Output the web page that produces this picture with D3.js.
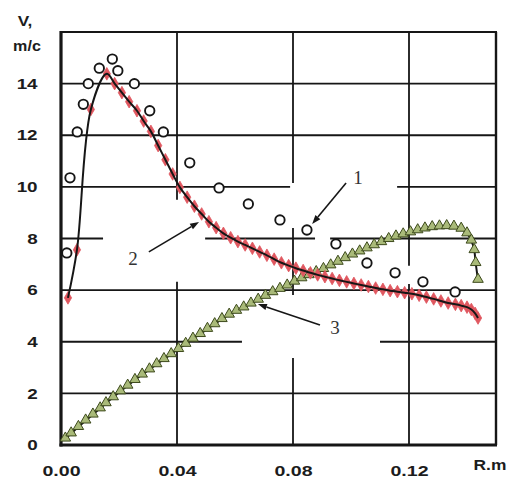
<!DOCTYPE html>
<html><head><meta charset="utf-8">
<script src="https://cdn.jsdelivr.net/npm/d3@7"></script>
<style>
html,body{margin:0;padding:0;background:#fff;}
svg{display:block;}
</style></head>
<body><svg id="chart" width="509" height="479"></svg>
<script>
// Axis ticks
const radiusTicks = [0, 0.04, 0.08, 0.12];
const speedTicks = [0, 2, 4, 6, 8, 10, 12, 14];

// Curve 1: measured velocity (open circles)
const curve1R = [0.0020, 0.0031, 0.0056, 0.0077, 0.0094, 0.0132, 0.0177, 0.0196, 0.0253, 0.0306,
  0.0353, 0.0444, 0.0545, 0.0646, 0.0755, 0.0848, 0.0948, 0.1055, 0.1152, 0.1248, 0.1359];
const curve1V = [7.44, 10.35, 12.13, 13.2, 14.0, 14.6, 14.95, 14.5, 14.0, 12.95,
  12.13, 10.93, 9.96, 9.34, 8.72, 8.33, 7.79, 7.05, 6.67, 6.32, 5.93];

// Curve 2: computed velocity (red diamonds)
const curve2R = [0.0024, 0.0055, 0.0103, 0.0158, 0.0185, 0.021, 0.0235, 0.0262, 0.0285, 0.031,
  0.0335, 0.036, 0.0385, 0.041, 0.0435, 0.046, 0.0485, 0.051, 0.0535, 0.056,
  0.0585, 0.061, 0.0635, 0.066, 0.0685, 0.071, 0.0735, 0.076, 0.0785, 0.081,
  0.0835, 0.086, 0.0885, 0.091, 0.0935, 0.096, 0.0985, 0.101, 0.1035, 0.106,
  0.1085, 0.111, 0.1135, 0.116, 0.1185, 0.121, 0.1235, 0.126, 0.1285, 0.131,
  0.1335, 0.136, 0.138, 0.14, 0.1415, 0.1428, 0.1438];
const curve2V = [5.7, 7.56, 13.0, 14.38, 14.0, 13.65, 13.3, 12.95, 12.55, 12.15,
  11.6, 11.05, 10.5, 9.98, 9.6, 9.25, 8.95, 8.65, 8.42, 8.2,
  8.03, 7.88, 7.75, 7.62, 7.48, 7.35, 7.2, 7.06, 6.95, 6.85,
  6.76, 6.67, 6.59, 6.52, 6.45, 6.38, 6.32, 6.26, 6.2, 6.14,
  6.08, 6.03, 5.98, 5.94, 5.9, 5.86, 5.8, 5.73, 5.66, 5.58,
  5.5, 5.45, 5.4, 5.34, 5.25, 5.1, 4.92];

// Curve 3: computed velocity (green triangles)
const curve3R = [0.0015, 0.0035, 0.006, 0.0085, 0.011, 0.0135, 0.0155, 0.018, 0.0205, 0.023,
  0.0255, 0.028, 0.0305, 0.033, 0.0355, 0.038, 0.0405, 0.043, 0.0455, 0.048,
  0.0505, 0.053, 0.0555, 0.058, 0.0605, 0.063, 0.0655, 0.068, 0.0705, 0.073,
  0.0755, 0.078, 0.0805, 0.083, 0.0855, 0.088, 0.0905, 0.093, 0.0955, 0.098,
  0.1005, 0.103, 0.1055, 0.108, 0.1105, 0.113, 0.1155, 0.118, 0.1205, 0.123,
  0.1255, 0.128, 0.1305, 0.133, 0.1355, 0.138, 0.14, 0.1415, 0.1425, 0.143, 0.1438];
const curve3V = [0.25, 0.45, 0.7, 0.95, 1.18, 1.42, 1.62, 1.85, 2.08, 2.3,
  2.52, 2.73, 2.93, 3.13, 3.33, 3.52, 3.72, 3.92, 4.12, 4.3,
  4.5, 4.68, 4.88, 5.05, 5.2, 5.33, 5.48, 5.63, 5.78, 5.92,
  6.05, 6.18, 6.33, 6.46, 6.58, 6.7, 6.82, 6.96, 7.1, 7.24,
  7.38, 7.5, 7.62, 7.74, 7.86, 7.98, 8.08, 8.16, 8.24, 8.32,
  8.39, 8.44, 8.47, 8.48, 8.46, 8.38, 8.2, 7.92, 7.55, 7.05, 6.4];

// Curve numbers
const curveLabels = ["1", "2", "3"];

// ---- layout ----
const svg = d3.select("#chart");
const x = d3.scaleLinear().domain([0, 0.15]).range([61, 496]);
const y = d3.scaleLinear().domain([0, 16]).range([445, 32]);
const ink = "#161616";

// breaks in the grid, in data units, left free around the curve numbers
const hGaps = new Map([[8, [[0.0145, 0.0497], [0.0876, 0.0928]]], [4, [[0.0624, 0.11]]], [10, [[0.079, 0.1159]]]]);
const vGaps = new Map([[0.04, [[6.32, 9.5]]], [0.08, [[3.37, 5.81], [8.41, 10.15]]], [0.12, [[6.24, 6.94]]]]);

function segments(lo, hi, gaps) {
  const out = [];
  let s = lo;
  (gaps || []).forEach(([a, b]) => { out.push([s, a]); s = b; });
  out.push([s, hi]);
  return out;
}

const grid = svg.append("g").attr("stroke", ink).attr("stroke-width", 1.8);
speedTicks.filter(v => v > 0).forEach(v => {
  segments(0, 0.15, hGaps.get(v)).forEach(([a, b]) => {
    grid.append("line").attr("x1", x(a)).attr("x2", x(b)).attr("y1", y(v)).attr("y2", y(v));
  });
});
radiusTicks.filter(r => r > 0).forEach(r => {
  segments(0, 16, vGaps.get(r)).forEach(([a, b]) => {
    grid.append("line").attr("x1", x(r)).attr("x2", x(r)).attr("y1", y(a)).attr("y2", y(b));
  });
});

// frame
const frame = svg.append("g").attr("stroke", ink).attr("fill", "none");
frame.append("line").attr("x1", x(0)).attr("x2", x(0)).attr("y1", y(16) - 1).attr("y2", y(0) + 1.5).attr("stroke-width", 3.2);
frame.append("line").attr("x1", x(0) - 1.5).attr("x2", x(0.15) + 1).attr("y1", y(0)).attr("y2", y(0)).attr("stroke-width", 3.2);
frame.append("line").attr("x1", x(0)).attr("x2", x(0.15) + 1).attr("y1", y(16)).attr("y2", y(16)).attr("stroke-width", 2.2);
frame.append("line").attr("x1", x(0.15)).attr("x2", x(0.15)).attr("y1", y(16)).attr("y2", y(0)).attr("stroke-width", 2.4);

// axes (labels only; the frame and grid carry the lines)
const font = "'Liberation Sans', Arial, sans-serif";
const xAxis = svg.append("g").attr("transform", `translate(0,${y(0)})`)
  .call(d3.axisBottom(x).tickValues(radiusTicks).tickFormat(d3.format(".2f")).tickSize(0).tickPadding(18));
const yAxis = svg.append("g").attr("transform", `translate(${x(0)},0)`)
  .call(d3.axisLeft(y).tickValues(speedTicks).tickFormat(d3.format("d")).tickSize(0).tickPadding(18));
[xAxis, yAxis].forEach(g => {
  g.select(".domain").remove();
  g.selectAll("text").attr("font-family", font).attr("font-weight", "bold")
    .attr("font-size", 14.5).attr("fill", "#1c1c1c");
});
// wide lettering: stretch each label horizontally about its anchor
xAxis.selectAll(".tick text").attr("dy", "0.9em").attr("transform", "scale(1.35,1)");
yAxis.selectAll(".tick text").attr("transform", "scale(1.3,1)");

svg.append("text").attr("x", 25).attr("y", 26).attr("text-anchor", "middle")
  .attr("font-family", font).attr("font-weight", "bold").attr("font-size", 15).attr("fill", "#1c1c1c")
  .attr("transform", "translate(25,0) scale(1.15,1) translate(-25,0)").text("V,");
svg.append("text").attr("x", 27).attr("y", 51).attr("text-anchor", "middle")
  .attr("font-family", font).attr("font-weight", "bold").attr("font-size", 14).attr("fill", "#1c1c1c")
  .attr("transform", "translate(27,0) scale(1.15,1) translate(-27,0)").text("m/c");
svg.append("text").attr("x", 490).attr("y", 470).attr("text-anchor", "middle")
  .attr("font-family", font).attr("font-weight", "bold").attr("font-size", 14.5).attr("fill", "#1c1c1c")
  .attr("transform", "translate(490,0) scale(1.2,1) translate(-490,0)").text("R.m");

// ---- curves ----
const pts = (rs, vs) => rs.map((r, i) => [r, vs[i]]);
const line = d3.line().x(d => x(d[0])).y(d => y(d[1])).curve(d3.curveCatmullRom.alpha(0.5));

const c2 = pts(curve2R, curve2V);
const c3 = pts(curve3R, curve3V);
const c1 = pts(curve1R, curve1V);

// curve 3 markers sit under curve 2
svg.append("path").datum(c3).attr("d", line).attr("fill", "none").attr("stroke", ink).attr("stroke-width", 2);
const tri = d3.symbol().type(d3.symbolTriangle).size(48);
svg.append("g").selectAll("path").data(c3).join("path")
  .attr("d", tri).attr("transform", d => `translate(${x(d[0])},${y(d[1]) - 0.5})`)
  .attr("fill", "#a9ba79").attr("stroke", "#3d4a1c").attr("stroke-width", 1);

const dia = d3.symbol().type(d3.symbolDiamond).size(46);
svg.append("g").selectAll("path").data(c2).join("path")
  .attr("d", dia).attr("transform", d => `translate(${x(d[0])},${y(d[1])})`)
  .attr("fill", "#e0575f").attr("stroke", "#e0575f").attr("stroke-width", 0.8);
svg.append("path").datum(c2).attr("d", line).attr("fill", "none").attr("stroke", ink).attr("stroke-width", 2);

svg.append("g").selectAll("circle").data(c1).join("circle")
  .attr("cx", d => x(d[0])).attr("cy", d => y(d[1])).attr("r", 4.7)
  .attr("fill", "#fff").attr("stroke", ink).attr("stroke-width", 1.9);

// ---- curve numbers with leader arrows ----
const notes = [
  { label: curveLabels[0], at: [0.1024, 10.38], from: [0.0983, 10.15], to: [0.0866, 8.56] },
  { label: curveLabels[1], at: [0.0248, 7.24], from: [0.0303, 7.48], to: [0.0476, 8.64] },
  { label: curveLabels[2], at: [0.0945, 4.57], from: [0.0893, 4.65], to: [0.0679, 5.46] }
];
const ann = svg.append("g");
notes.forEach(n => {
  const x1 = x(n.from[0]), y1 = y(n.from[1]), x2 = x(n.to[0]), y2 = y(n.to[1]);
  const ang = Math.atan2(y2 - y1, x2 - x1);
  const len = 9, wid = 3.2;
  const bx = x2 - len * Math.cos(ang), by = y2 - len * Math.sin(ang);
  ann.append("line").attr("x1", x1).attr("y1", y1).attr("x2", bx).attr("y2", by)
    .attr("stroke", ink).attr("stroke-width", 1.6);
  ann.append("path").attr("d", `M${x2},${y2}L${bx - wid * Math.sin(ang)},${by + wid * Math.cos(ang)}L${bx + wid * Math.sin(ang)},${by - wid * Math.cos(ang)}Z`)
    .attr("fill", ink);
  ann.append("text").attr("x", x(n.at[0])).attr("y", y(n.at[1])).attr("dy", "0.35em")
    .attr("text-anchor", "middle").attr("font-family", "'Liberation Serif', 'Times New Roman', serif")
    .attr("font-size", 19).attr("fill", "#333").text(n.label);
});
</script>
</body></html>
